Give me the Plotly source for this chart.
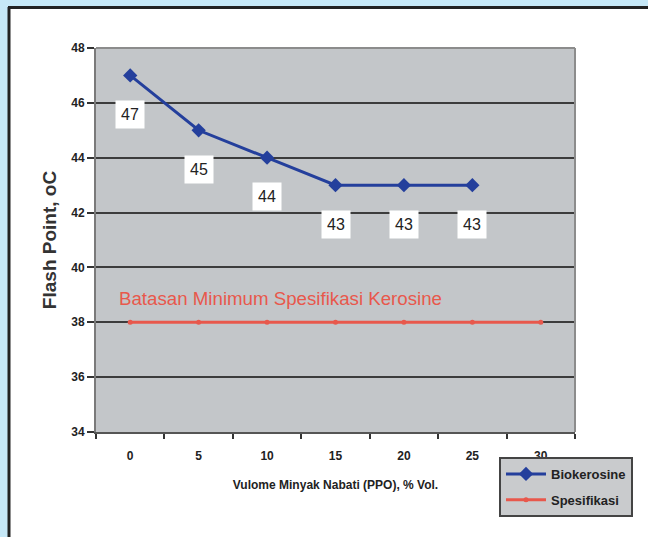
import plotly.graph_objects as go

# ---- data ----
categories = ["0", "5", "10", "15", "20", "25", "30"]
bio_x = ["0", "5", "10", "15", "20", "25"]
bio_y = [47, 45, 44, 43, 43, 43]
spec_x = ["0", "5", "10", "15", "20", "25", "30"]
spec_y = [38, 38, 38, 38, 38, 38, 38]
y_ticks = [34, 36, 38, 40, 42, 44, 46, 48]
series_names = ["Biokerosine", "Spesifikasi"]
spec_note = "Batasan Minimum Spesifikasi Kerosine"
x_title = "Vulome Minyak Nabati (PPO), % Vol."
y_title = "Flash Point, oC"

# ---- geometry helpers (pixel -> paper) ----
W, H = 648, 537
L, R, T, B = 96, 575, 48, 432
def px(x):
    return (x - L) / (R - L)
def py(y):
    return (B - y) / (B - T)

FONT = "Liberation Sans, Arial, sans-serif"
BLUE = "#243f9c"
RED = "#e8584c"
SKY = "#c6e8f7"

fig = go.Figure()
fig.add_trace(go.Scatter(
    x=bio_x, y=bio_y, mode="lines+markers", name=series_names[0],
    legendgroup="a",
    line=dict(color=BLUE, width=3),
    marker=dict(symbol="diamond", size=11, color=BLUE),
))
fig.add_trace(go.Scatter(
    x=spec_x, y=spec_y, mode="lines+markers", name=series_names[1],
    legendgroup="b",
    line=dict(color=RED, width=3),
    marker=dict(symbol="circle", size=5, color=RED),
))

# data labels (category index positions)
for xv, yv in zip(bio_x, bio_y):
    fig.add_annotation(
        x=categories.index(xv), y=yv, xref="x", yref="y", text=str(yv),
        showarrow=False, yshift=-39, bgcolor="white", borderpad=5,
        font=dict(family=FONT, size=16, color="#222"),
    )

fig.add_annotation(
    x=px(117), y=38.85, xref="paper", yref="y", text=spec_note,
    showarrow=False, xanchor="left", yanchor="middle",
    font=dict(family=FONT, size=18.7, color=RED),
)

shapes = [
    dict(type="rect", xref="paper", yref="paper", x0=px(-5), x1=px(8),
         y0=py(545), y1=py(-5), fillcolor=SKY, line=dict(width=0), layer="below"),
    dict(type="rect", xref="paper", yref="paper", x0=px(-5), x1=px(655),
         y0=py(6), y1=py(-5), fillcolor=SKY, line=dict(width=0), layer="below"),
    dict(type="line", xref="paper", yref="paper", x0=px(9), x1=px(9),
         y0=py(545), y1=py(7), line=dict(color="#222", width=3), layer="below"),
    dict(type="line", xref="paper", yref="paper", x0=px(8), x1=px(655),
         y0=py(7.5), y1=py(7.5), line=dict(color="#222", width=3), layer="below"),
    # plot frame (top / right)
    dict(type="line", xref="paper", yref="paper", x0=0, x1=1, y0=1, y1=1,
         line=dict(color="#8c8c8c", width=2)),
    dict(type="line", xref="paper", yref="paper", x0=1, x1=1, y0=0, y1=1,
         line=dict(color="#8c8c8c", width=2)),
]

fig.update_layout(
    width=W, height=H,
    margin=dict(l=L, r=W - R, t=T, b=H - B, pad=0),
    paper_bgcolor="white",
    plot_bgcolor="#c3c6c9",
    shapes=shapes,
    showlegend=True,
    legend=dict(
        x=px(499), y=py(457), xanchor="left", yanchor="top",
        bgcolor="#c9cbcd", bordercolor="#444", borderwidth=2,
        font=dict(family=FONT, size=13, color="#222", weight="bold"),
        tracegroupgap=6, itemwidth=40,
    ),
    font=dict(family=FONT),
)

fig.update_xaxes(
    type="category", categoryorder="array", categoryarray=categories,
    range=[-0.5, len(categories) - 0.5],
    showgrid=False, showline=True, linecolor="#555", linewidth=2,
    ticks="outside", tickson="boundaries", ticklen=5, tickcolor="#333", tickwidth=2,
    ticklabelstandoff=12,
    tickfont=dict(family=FONT, size=12, color="#222", weight="bold"),
    title=dict(text=x_title, standoff=18,
               font=dict(family=FONT, size=12, color="#222", weight="bold")),
    zeroline=False,
)
fig.update_yaxes(
    range=[34, 48], tickvals=y_ticks,
    showgrid=True, gridcolor="#3c3c3c", gridwidth=1.5,
    showline=True, linecolor="#7a7a7a", linewidth=2,
    ticks="outside", ticklen=7, tickcolor="#333", tickwidth=2,
    tickfont=dict(family=FONT, size=12, color="#222", weight="bold"),
    title=dict(text=y_title, standoff=10,
               font=dict(family=FONT, size=19, color="#333", weight="bold")),
    zeroline=False,
)

fig.write_html(
    "out.html",
    config={"displayModeBar": False},
    post_script=(
        "document.body.style.margin='0';document.body.style.overflow='hidden';"
        "document.documentElement.style.background='white';"
        "document.body.style.background='white';"
    ),
)
